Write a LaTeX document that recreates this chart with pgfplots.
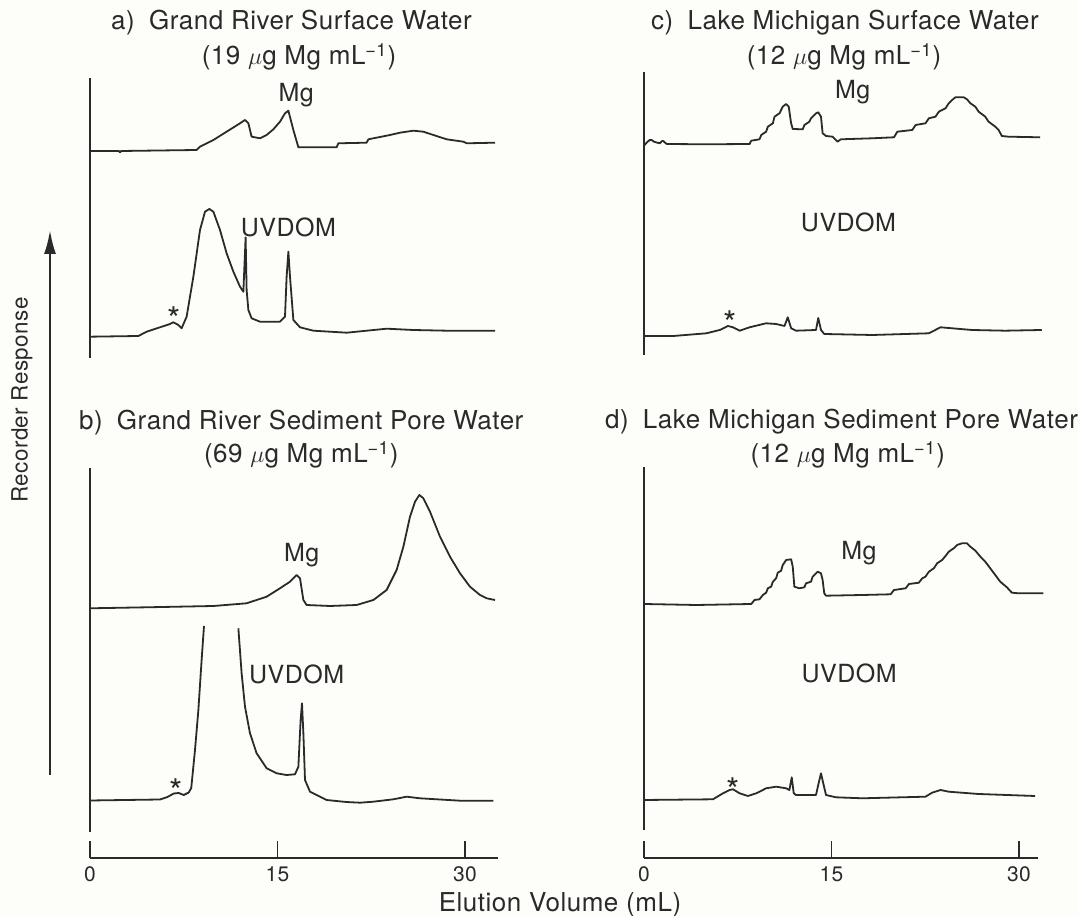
\documentclass[border=0pt]{standalone}
\usepackage{pgfplots}
\pgfplotsset{compat=1.18}
\usepackage{fontspec}
\setmainfont[LetterSpace=2]{TeX Gyre Heros}
\usetikzlibrary{arrows.meta}
\definecolor{ink}{HTML}{2A2A2A}
\definecolor{paper}{RGB}{253,253,249}
\tikzset{astk/.style={text=ink, font=\fontsize{17}{17}\selectfont, yshift=-4pt}}
\begin{document}
\begin{tikzpicture}[font=\fontsize{13}{15}\selectfont]
\useasboundingbox (-45pt,-29pt) rectangle (494pt,429pt);
\fill[paper] (-45pt,-29pt) rectangle (494pt,429pt);
\pgfplotsset{
  tr/.style={ink, line width=0.9pt, line join=round, mark=none},
  panel/.style={
    x=6.25pt, y=0.5pt,
    ymin=0, ymax=788, xmin=0,
    axis x line*=bottom, axis y line=none,
    xtick={0,15,30}, xticklabels={0,15,30},
    tick align=inside, major tick length=8.5pt,
    tick style={ink, line width=0.8pt},
    axis line style={ink, line width=0.8pt},
    xticklabel style={font=\fontsize{10.5}{12}\selectfont, text=ink, yshift=-1pt},
    clip=false, anchor=south west,
  },
}
% ---------------- left column: a) and b)
\begin{axis}[panel, at={(0,0)}, xmax=32.6]
\draw[ink, line width=0.8pt] (axis cs:0,500) -- (axis cs:0,780);
\draw[ink, line width=0.8pt] (axis cs:0,26) -- (axis cs:0,390);
% a) Mg
\addplot[tr] coordinates {(0,707) (2.3,707) (2.4,705.7) (2.5,707) (8.53,708) (8.8,711.3) (9.87,718) (10.93,726.3) (12.0,734.7) (12.4,738) (12.67,734.7) (12.93,721.3) (13.6,719.7) (14.13,723) (14.67,728.7) (15.2,736.3) (15.6,744.7) (15.87,747.3) (16.27,728) (16.67,710.7) (16.8,710.7) (19.73,710.7) (19.87,714.7) (22.13,715.3) (22.27,718.7) (24.0,723) (24.8,725.3) (25.87,727.3) (26.67,726.3) (27.47,723) (28.53,718.7) (29.87,716.3) (30.13,714.7) (32.4,715.3)};
% a) UVDOM
\addplot[tr] coordinates {(0,521.3) (3.87,522) (4.53,526.3) (5.6,530.7) (6.4,534) (6.67,535.7) (7.07,533) (7.33,529.7) (7.73,541.3) (8.27,581.3) (8.8,628) (9.2,646.3) (9.55,649) (9.87,646.3) (10.4,628) (10.93,604.7) (11.47,586.3) (12.0,571.3) (12.27,566.3) (12.45,620.7) (12.53,568) (12.67,548) (12.93,539.7) (13.6,536.3) (15.2,536.3) (15.6,541.3) (15.73,581.3) (15.87,606.3) (16.0,581.3) (16.27,538) (16.8,530.7) (17.87,527.3) (20.53,525.3) (23.73,529.3) (25.87,528) (28.53,527.3) (32.4,527.3)};
% b) Mg
\addplot[tr] coordinates {(0,249.7) (4.53,250.7) (9.87,252) (12.53,254.7) (13.33,258) (14.13,261.3) (15.2,269.7) (16.0,276.3) (16.53,283) (16.8,279.7) (17.07,258) (17.33,253) (19.2,252) (21.33,253) (22.67,258) (23.73,268) (24.53,288) (25.07,311.3) (25.6,341.3) (26.0,356.3) (26.35,363) (26.67,359.7) (27.2,346.3) (28.0,321.3) (28.8,301.3) (29.6,284.7) (30.4,271.3) (31.2,263) (31.73,259.7) (32.4,258)};
% b) UVDOM (main peak off scale)
\addplot[tr] coordinates {(0,57.5) (5.6,58.5) (6.2,61) (6.7,64.5) (7.1,65) (7.5,63) (7.9,65.5) (8.1,70) (8.4,108) (8.67,148) (8.93,198) (9.12,232)};
\addplot[tr] coordinates {(11.87,229.7) (12.13,184.7) (12.4,151.3) (12.8,124.7) (13.33,104.7) (14.13,89.7) (14.93,84.7) (15.73,83) (16.4,83.7) (16.67,91.3) (16.85,138) (16.96,154.7) (17.07,124.7) (17.2,78) (17.6,66.3) (18.4,61.3) (18.93,58) (20.5,56) (21.6,55.3) (22.67,56.3) (24.27,58.7) (25.33,61.3) (26.4,59.7) (29.6,57.3) (32.27,57.3)};
% labels
\node[text=ink] at (axis cs:16.12,835) {a)\hspace{0.55em}Grand River Surface Water};
\node[text=ink] at (axis cs:16.72,801) {(19 $\mu$g Mg mL\textsuperscript{−1})};
\node[text=ink, font=\fontsize{12.5}{15}\selectfont] at (axis cs:16.5,763) {Mg};
\node[text=ink, font=\fontsize{12.5}{15}\selectfont] at (axis cs:15.87,631) {UVDOM};
\node[astk] at (axis cs:6.75,547) {*};
\node[text=ink] at (axis cs:16.9,435) {b)\hspace{0.55em}Grand River Sediment Pore Water};
\node[text=ink] at (axis cs:16.9,403) {(69 $\mu$g Mg mL\textsuperscript{−1})};
\node[text=ink, font=\fontsize{12.5}{15}\selectfont] at (axis cs:16.93,303) {Mg};
\node[text=ink, font=\fontsize{12.5}{15}\selectfont] at (axis cs:16.53,184) {UVDOM};
\node[astk] at (axis cs:6.88,75) {*};
\draw[ink, line width=1.2pt, -{Latex[length=12pt,width=6pt]}] (axis cs:-3.2,83) -- (axis cs:-3.2,628);
\node[text=ink, rotate=90, font=\fontsize{11.2}{13}\selectfont] at (axis cs:-5.44,458) {Recorder Response};
\node[text=ink] at (axis cs:37.6,-47) {Elution Volume (mL)};
\end{axis}
% ---------------- right column: c) and d)
\begin{axis}[panel, at={(277pt,0)}, xmax=31.5]
\draw[ink, line width=0.8pt] (axis cs:0,503) -- (axis cs:0,786);
\draw[ink, line width=0.8pt] (axis cs:0,28) -- (axis cs:0,391);
% c) Mg
\addplot[tr] coordinates {(0,712.3) (0.21,715.3) (0.45,718) (0.61,718) (0.8,716.3) (1.01,715.5) (1.27,714.7) (1.45,717) (1.54,717) (1.81,714) (4.99,713.7) (8.45,714) (8.58,717.3) (9.24,718.7) (9.38,723) (9.77,726.3) (9.91,731.3) (10.31,734.7) (10.44,741.3) (10.84,744.7) (11.1,751.3) (11.37,754) (11.58,751.3) (11.77,734.7) (11.9,729) (12.7,728.7) (12.83,733) (13.23,736.3) (13.36,739.7) (13.76,744.7) (13.94,745.7) (14.16,741.3) (14.29,724.7) (14.56,722) (15.09,721.3) (15.48,716.3) (15.75,718.7) (18.27,719.7) (20.0,720.7) (20.27,726.3) (21.46,728) (21.73,733) (22.52,734.7) (22.79,739.7) (23.32,741.3) (23.59,746.3) (24.12,749.7) (24.38,754.7) (24.65,758) (24.91,760.7) (25.58,760.7) (25.84,758.7) (26.11,754.7) (26.51,751.3) (26.77,746.3) (27.3,741.3) (27.57,736.3) (28.1,731.3) (28.37,728) (28.63,722) (29.16,721.3) (31.69,720.7)};
% c) UVDOM
\addplot[tr] coordinates {(0,522) (2.34,522) (4.99,524.7) (6.06,528) (6.72,532) (7.12,530.7) (7.65,527.3) (8.45,530.7) (9.77,534.7) (10.57,534) (11.24,532) (11.5,540.7) (11.77,529.7) (12.16,527.3) (13.76,528) (13.94,540) (14.16,528) (14.42,524) (18.27,523) (22.79,524.7) (23.72,530.7) (24.65,529.7) (26.24,528) (28.9,527.3) (31.82,528)};
% d) Mg
\addplot[tr] coordinates {(0,254) (4.2,253) (8.58,254) (8.84,258) (9.24,258.7) (9.51,263) (9.77,265.3) (9.91,269.7) (10.17,271.3) (10.31,276.3) (10.57,279.7) (10.7,285.3) (10.97,287.3) (11.1,293) (11.37,298) (11.77,298.7) (11.9,291.3) (12.03,271.3) (12.43,269.7) (12.83,270.7) (12.96,274.7) (13.36,276.3) (13.49,281.3) (13.89,286.3) (14.16,284.7) (14.29,278) (14.42,264.7) (14.56,262.3) (17.48,263) (19.73,263.7) (20.0,268) (20.93,269.7) (21.2,274) (21.99,275.3) (22.26,279.7) (22.52,281.3) (22.79,286.3) (23.19,289.7) (23.45,294.7) (23.85,298) (24.12,302) (24.38,306.3) (24.78,309.7) (25.05,313) (25.44,314.7) (25.84,314.7) (26.11,311.3) (26.51,307.3) (26.91,301.3) (27.3,296.3) (27.7,289.7) (28.1,283) (28.5,276.3) (29.03,270.7) (29.43,265.3) (29.96,264.7) (31.95,264.7)};
% d) UVDOM
\addplot[tr] coordinates {(0,58) (5.52,58.7) (6.32,64.7) (6.85,68) (7.12,68.7) (7.65,64.7) (8.31,62) (8.98,64.7) (9.77,69.7) (10.57,71.3) (11.37,69.7) (11.63,68) (11.82,80.7) (11.98,64.7) (12.16,63) (13.76,63) (13.97,74.7) (14.16,84.7) (14.34,74.7) (14.56,63) (15.35,60.7) (17.48,59.7) (22.52,61.3) (23.05,65.3) (23.72,68) (24.38,66.3) (26.77,64) (31.29,62)};
% labels
\node[text=ink] at (axis cs:16.08,835) {c)\hspace{0.55em}Lake Michigan Surface Water};
\node[text=ink] at (axis cs:16.0,801) {(12 $\mu$g Mg mL\textsuperscript{−1})};
\node[text=ink, font=\fontsize{12.5}{15}\selectfont] at (axis cs:16.7,766) {Mg};
\node[text=ink, font=\fontsize{12.5}{15}\selectfont] at (axis cs:16.36,636) {UVDOM};
\node[astk] at (axis cs:6.9,543) {*};
\node[text=ink] at (axis cs:15.8,436) {d)\hspace{0.55em}Lake Michigan Sediment Pore Water};
\node[text=ink] at (axis cs:16.3,403) {(12 $\mu$g Mg mL\textsuperscript{−1})};
\node[text=ink, font=\fontsize{12.5}{15}\selectfont] at (axis cs:17.2,305) {Mg};
\node[text=ink, font=\fontsize{12.5}{15}\selectfont] at (axis cs:16.41,185) {UVDOM};
\node[astk] at (axis cs:7.12,76) {*};
\end{axis}
\end{tikzpicture}
\end{document}
